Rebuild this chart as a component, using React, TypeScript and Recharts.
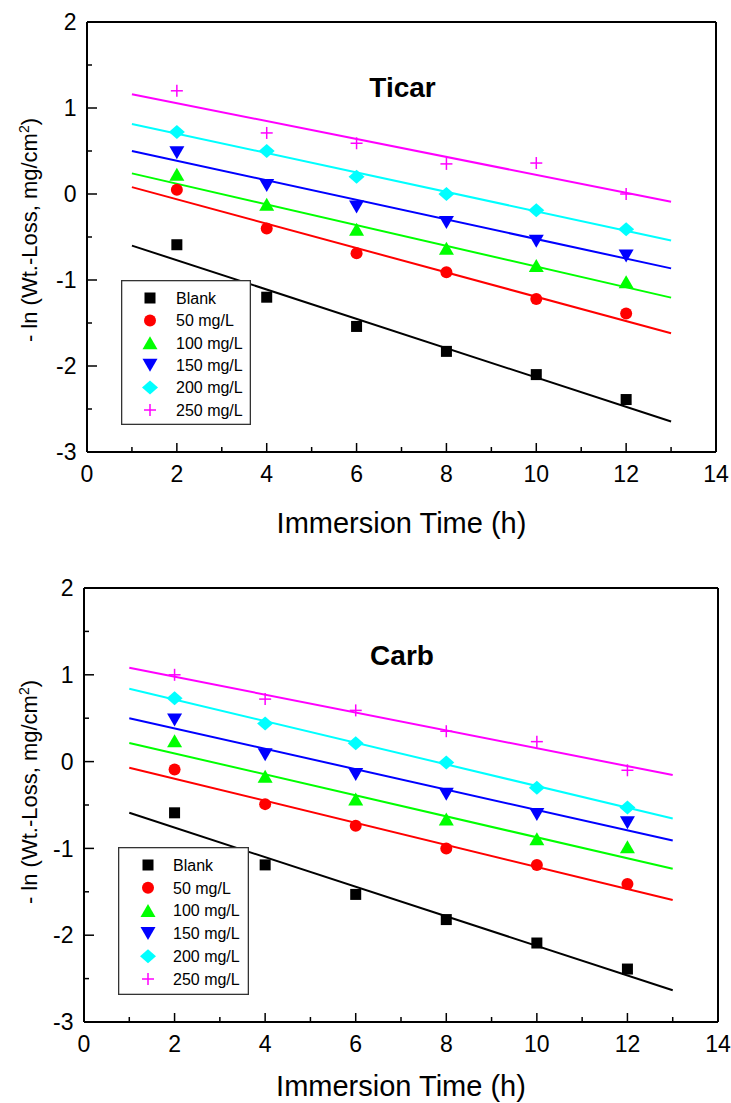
import { ScatterChart, Scatter, XAxis, YAxis, Legend } from 'recharts';

const times = [2, 4, 6, 8, 10, 12];
const fitTimes = [1, 13];
const seriesNames = ['Blank', '50 mg/L', '100 mg/L', '150 mg/L', '200 mg/L', '250 mg/L'];
const seriesColors = ['#000000', '#ff0000', '#00ff00', '#0000ff', '#00ffff', '#ff00ff'];
const xTicks = [0, 1, 2, 3, 4, 5, 6, 7, 8, 9, 10, 11, 12, 13, 14];
const yTicks = [-3, -2.5, -2, -1.5, -1, -0.5, 0, 0.5, 1, 1.5, 2];

// Ticar
const ticarBlank = [-0.59, -1.2, -1.54, -1.83, -2.1, -2.39];
const ticar50 = [0.05, -0.4, -0.69, -0.91, -1.22, -1.39];
const ticar100 = [0.23, -0.12, -0.41, -0.63, -0.83, -1.02];
const ticar150 = [0.48, 0.1, -0.15, -0.33, -0.55, -0.72];
const ticar200 = [0.72, 0.5, 0.2, 0.0, -0.19, -0.41];
const ticar250 = [1.2, 0.71, 0.59, 0.35, 0.36, 0.0];
// fitted lines, values at t = 1 and t = 13
const ticarFitBlank = [-0.6, -2.645];
const ticarFit50 = [0.08, -1.62];
const ticarFit100 = [0.24, -1.205];
const ticarFit150 = [0.5, -0.865];
const ticarFit200 = [0.815, -0.54];
const ticarFit250 = [1.16, -0.09];

// Carb
const carbBlank = [-0.59, -1.19, -1.53, -1.82, -2.09, -2.39];
const carb50 = [-0.09, -0.49, -0.74, -1.0, -1.19, -1.41];
const carb100 = [0.24, -0.17, -0.43, -0.66, -0.89, -0.98];
const carb150 = [0.48, 0.08, -0.15, -0.375, -0.61, -0.705];
const carb200 = [0.73, 0.44, 0.21, -0.01, -0.3, -0.53];
const carb250 = [1.0, 0.72, 0.59, 0.35, 0.23, -0.1];
const carbFitBlank = [-0.59, -2.635];
const carbFit50 = [-0.07, -1.595];
const carbFit100 = [0.215, -1.235];
const carbFit150 = [0.5, -0.91];
const carbFit200 = [0.84, -0.655];
const carbFit250 = [1.08, -0.155];

const FONT = '"Liberation Sans", Arial, sans-serif';

const toPoints = (xs: number[], ys: number[]) => xs.map((x, i) => ({ x, y: ys[i] }));

// 0 square, 1 circle, 2 triangle up, 3 triangle down, 4 diamond, 5 plus
const marker = (kind: number, cx: number, cy: number, color: string) => {
  if (kind === 0) return <rect x={cx - 5.5} y={cy - 5.5} width={11} height={11} fill={color} />;
  if (kind === 1) return <circle cx={cx} cy={cy} r={6} fill={color} />;
  if (kind === 2)
    return <polygon points={`${cx - 7.5},${cy + 6.5} ${cx + 7.5},${cy + 6.5} ${cx},${cy - 6.5}`} fill={color} />;
  if (kind === 3)
    return <polygon points={`${cx - 7.5},${cy - 6.5} ${cx + 7.5},${cy - 6.5} ${cx},${cy + 6.5}`} fill={color} />;
  if (kind === 4)
    return <polygon points={`${cx - 8},${cy} ${cx},${cy - 7} ${cx + 8},${cy} ${cx},${cy + 7}`} fill={color} />;
  return (
    <g stroke={color} strokeWidth={1.5}>
      <line x1={cx - 6} x2={cx + 6} y1={cy} y2={cy} />
      <line x1={cx} x2={cx} y1={cy - 6} y2={cy + 6} />
    </g>
  );
};

const BottomTick = (p: any) => {
  const v = p.payload.value;
  const major = v % 2 === 0;
  return (
    <g>
      <line x1={p.x} x2={p.x} y1={p.y} y2={p.y - (major ? 9 : 5)} stroke="#000" strokeWidth={1.5} />
      {major && (
        <text x={p.x} y={p.y + 30} textAnchor="middle" fontSize={23} fontFamily={FONT} fill="#000">
          {v}
        </text>
      )}
    </g>
  );
};

const TopTick = (p: any) => {
  const major = p.payload.value % 2 === 0;
  return <line x1={p.x} x2={p.x} y1={p.y} y2={p.y + (major ? 9 : 5)} stroke="#000" strokeWidth={1.5} />;
};

const LeftTick = (p: any) => {
  const v = p.payload.value;
  const major = Number.isInteger(v);
  return (
    <g>
      <line x1={p.x} x2={p.x + (major ? 10 : 5)} y1={p.y} y2={p.y} stroke="#000" strokeWidth={1.5} />
      {major && (
        <text x={p.x - 10.5} y={p.y + 8.2} textAnchor="end" fontSize={23} fontFamily={FONT} fill="#000">
          {v}
        </text>
      )}
    </g>
  );
};

const RightTick = (p: any) => {
  const major = Number.isInteger(p.payload.value);
  return <line x1={p.x} x2={p.x - (major ? 10 : 5)} y1={p.y} y2={p.y} stroke="#000" strokeWidth={1.5} />;
};

const LegendBox = ({ w, h, rowY, rowGap, markX, textX }: any) => (
  <svg width={w} height={h} style={{ display: 'block' }}>
    <rect x={0.65} y={0.65} width={w - 1.3} height={h - 1.3} fill="#fff" stroke="#333" strokeWidth={1.3} />
    {seriesNames.map((name, i) => (
      <g key={name}>
        {marker(i, markX, rowY + i * rowGap, seriesColors[i])}
        <text x={textX} y={rowY + i * rowGap + 5.8} fontSize={16} fontFamily={FONT} fill="#000">
          {name}
        </text>
      </g>
    ))}
  </svg>
);

const Panel = ({ title, points, fits, top, height, plot, titleY, labelY, xTitleY, legend }: any) => {
  // each axis takes 1px, so the margins are 1px short of the plot box
  const margin = { top: plot.top - 1, right: 731 - plot.right - 1, bottom: height - plot.bottom - 1, left: plot.left - 1 };
  const plotMid = (plot.left + plot.right) / 2;
  const axisLine = { stroke: '#000', strokeWidth: 2 };
  return (
    <div style={{ position: 'absolute', left: 0, top, width: 731, height }}>
      <ScatterChart width={731} height={height} margin={margin}>
        <XAxis xAxisId="b" type="number" dataKey="x" domain={[0, 14]} ticks={xTicks} interval={0} height={1}
          tickSize={0} tickMargin={0} tickLine={false} axisLine={axisLine} tick={BottomTick} />
        <XAxis xAxisId="t" orientation="top" type="number" dataKey="x" domain={[0, 14]} ticks={xTicks} interval={0}
          height={1} tickSize={0} tickMargin={0} tickLine={false} axisLine={axisLine} tick={TopTick} />
        <YAxis yAxisId="l" type="number" dataKey="y" domain={[-3, 2]} ticks={yTicks} interval={0} width={1}
          tickSize={0} tickMargin={0} tickLine={false} axisLine={axisLine} tick={LeftTick} />
        <YAxis yAxisId="r" orientation="right" type="number" dataKey="y" domain={[-3, 2]} ticks={yTicks} interval={0}
          width={1} tickSize={0} tickMargin={0} tickLine={false} axisLine={axisLine} tick={RightTick} />
        {fits.map((f: number[], i: number) => (
          <Scatter key={'fit' + i} xAxisId="b" yAxisId="l" data={toPoints(fitTimes, f)} legendType="none"
            line={{ stroke: seriesColors[i], strokeWidth: 2 }} shape={() => <g />} isAnimationActive={false} />
        ))}
        {points.map((s: number[], i: number) => (
          <Scatter key={seriesNames[i]} name={seriesNames[i]} xAxisId="b" yAxisId="l" data={toPoints(times, s)}
            shape={(p: any) => marker(i, p.cx, p.cy, seriesColors[i])} isAnimationActive={false} />
        ))}
        <Legend layout="vertical" align="center" verticalAlign="middle"
          wrapperStyle={{ left: legend.left, top: legend.top, width: legend.w, height: legend.h }}
          content={() => <LegendBox {...legend} />} />
      </ScatterChart>
      <div style={{ position: 'absolute', left: plotMid + 1, top: titleY, transform: 'translateX(-50%)',
        fontFamily: FONT, fontWeight: 'bold', fontSize: 28, lineHeight: 1, whiteSpace: 'nowrap' }}>{title}</div>
      <div style={{ position: 'absolute', left: 29.5, top: labelY, transform: 'translate(-50%, -50%) rotate(-90deg)',
        fontFamily: FONT, fontSize: 22, lineHeight: 1, whiteSpace: 'nowrap' }}>
        - ln (Wt.-Loss, mg/cm<span style={{ fontSize: 14, verticalAlign: 'super', lineHeight: 0 }}>2</span>)
      </div>
      <div style={{ position: 'absolute', left: plotMid, top: xTitleY, transform: 'translateX(-50%)',
        fontFamily: FONT, fontSize: 29, lineHeight: 1, whiteSpace: 'nowrap' }}>Immersion Time (h)</div>
    </div>
  );
};

export default function App() {
  return (
    <div style={{ position: 'absolute', left: 0, top: 0, width: 731, height: 1103, background: '#fff' }}>
      <Panel
        title="Ticar"
        points={[ticarBlank, ticar50, ticar100, ticar150, ticar200, ticar250]}
        fits={[ticarFitBlank, ticarFit50, ticarFit100, ticarFit150, ticarFit200, ticarFit250]}
        top={0}
        height={550}
        plot={{ left: 87, right: 716, top: 22, bottom: 452 }}
        titleY={74}
        labelY={230}
        xTitleY={508.5}
        legend={{ left: 121, top: 280, w: 130, h: 145, rowY: 18, rowGap: 22.4, markX: 29, textX: 55 }}
      />
      <Panel
        title="Carb"
        points={[carbBlank, carb50, carb100, carb150, carb200, carb250]}
        fits={[carbFitBlank, carbFit50, carbFit100, carbFit150, carbFit200, carbFit250]}
        top={552}
        height={551}
        plot={{ left: 84, right: 718, top: 36, bottom: 470 }}
        titleY={90}
        labelY={240}
        xTitleY={519.5}
        legend={{ left: 118, top: 295, w: 131, h: 148, rowY: 18, rowGap: 22.8, markX: 30, textX: 55 }}
      />
    </div>
  );
}
